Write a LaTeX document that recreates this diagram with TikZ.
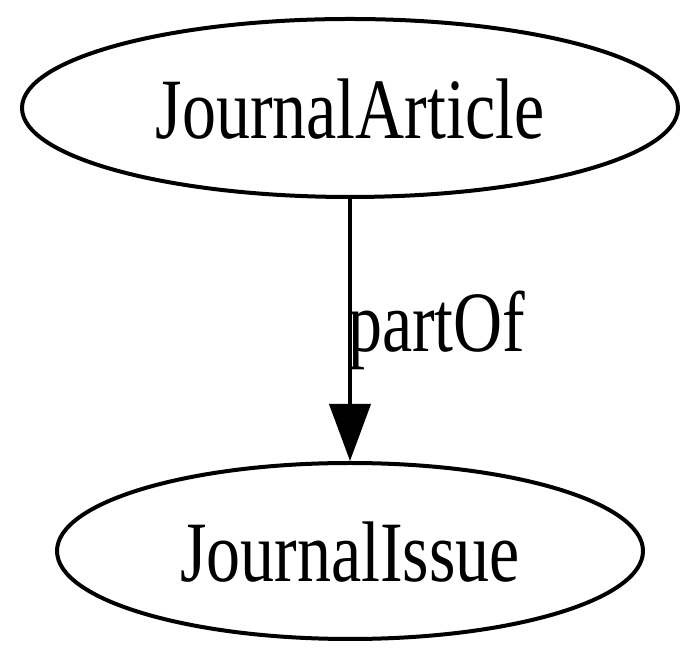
\documentclass[tikz,border=0pt]{standalone}
\usepackage{fontspec}
\setmainfont{Liberation Serif}
\usetikzlibrary{arrows.meta,shapes.geometric}

\newcommand{\narrow}[1]{\scalebox{0.79}[1]{#1}}

\begin{document}
\begin{tikzpicture}[x=1pt,y=1pt,>={Triangle[length=57pt,width=41pt]},
	class/.style={ellipse, draw, line width=4pt, inner sep=0pt,
		text height=62pt, text depth=0pt,
		font=\fontsize{86}{90}\selectfont},
	rel/.style={font=\fontsize{86}{90}\selectfont, inner sep=0pt}]

	\useasboundingbox (0,0) rectangle (700,660);

	\node [class, minimum width=656pt, minimum height=178pt] (article) at (350,552) {\narrow{JournalArticle}};
	\node [class, minimum width=586pt, minimum height=176pt] (issue) at (350,109) {\narrow{JournalIssue}};
	\draw [line width=4pt,->] (article) -- (issue);
	\node [rel, anchor=base west] (partof) at (348,308) {\narrow{partOf}};

\end{tikzpicture}
\end{document}
